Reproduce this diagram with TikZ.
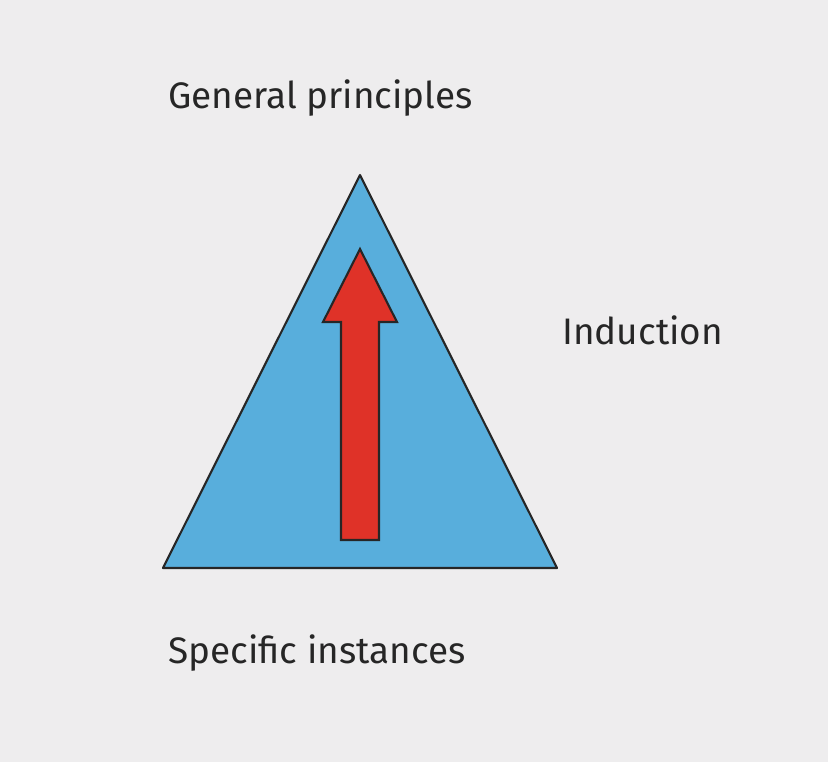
\documentclass[tikz,border=0pt]{standalone}
\usepackage{fontspec}
\setmainfont{Fira Sans}
\definecolor{bg}{HTML}{EEEDEE}
\definecolor{tri}{HTML}{58AEDC}
\definecolor{arr}{HTML}{DF3228}
\begin{document}
\begin{tikzpicture}[x=0.02cm,y=-0.02cm,
  lbl/.style={font=\fontsize{21}{24}\selectfont\addfontfeature{LetterSpace=0}, text=black!85, inner sep=0, anchor=west}]
\fill[bg] (0,0) rectangle (828,762);
\useasboundingbox (0,0) rectangle (828,762);
\coordinate (apex) at (360,175);
\coordinate (bl) at (163,568);
\coordinate (br) at (557,568);
\filldraw[fill=tri, draw=black!85, line width=1.2pt, line join=round] (apex) -- (bl) -- (br) -- cycle;
\filldraw[fill=arr, draw=black!85, line width=1.2pt, line join=miter]
  (341,540) -- (341,322) -- (323,322) -- (360,249) -- (397,322) -- (379,322) -- (379,540) -- cycle;
\node[lbl] (gen) at (168,98) {General principles};
\node[lbl] (ind) at (562,330) {Induction};
\node[lbl] (spec) at (168,653) {Specific instances};
\end{tikzpicture}
\end{document}
